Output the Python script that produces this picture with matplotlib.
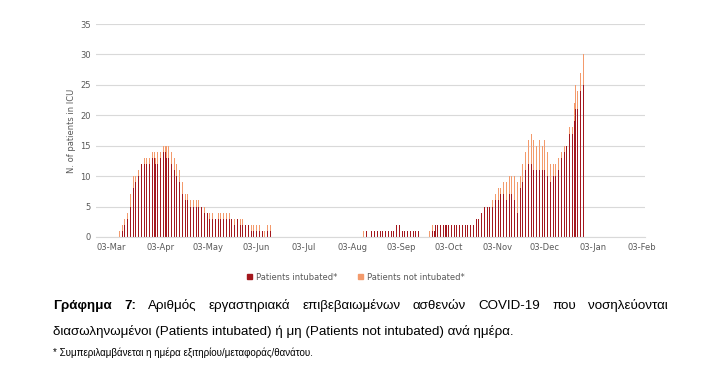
import numpy as np
import pandas as pd
import matplotlib
matplotlib.use("Agg")
import matplotlib.pyplot as plt
import matplotlib.dates as mdates
from matplotlib.patches import Patch

# daily values, first wave starting 07-Mar-2020
wave1_start = "2020-03-07"
wave1_intubated = [0, 0, 1, 1, 2, 2, 3, 4, 5, 7, 8, 9, 10, 10, 11, 12, 12, 12, 12, 12,
                   12, 13, 13, 13, 12, 12, 13, 13, 13, 14, 14, 13, 13, 13, 12, 12, 11, 10, 9, 9,
                   8, 7, 6, 6, 6, 5, 5, 5, 5, 5, 5, 5, 5, 5, 4, 4, 4, 4, 3, 3,
                   3, 3, 3, 3, 3, 3, 3, 3, 3, 3, 3, 3, 3, 2, 2, 2, 3, 3, 2, 2,
                   2, 2, 2, 2, 2, 1, 1, 1, 1, 1, 1, 1, 1, 0, 1, 1, 1, 1]
wave1_not_intubated = [1, 1, 1, 1, 1, 1, 1, 2, 2, 2, 2, 1, 1, 1, 1, 0, 1, 1, 1, 1,
                       1, 0, 1, 1, 1, 2, 1, 1, 2, 1, 1, 2, 2, 1, 2, 1, 2, 2, 2, 2,
                       2, 2, 2, 1, 1, 1, 1, 1, 1, 0, 1, 1, 0, 0, 1, 1, 0, 0, 1, 1,
                       1, 0, 0, 1, 1, 1, 1, 1, 1, 1, 1, 1, 0, 1, 1, 1, 0, 0, 1, 1,
                       1, 0, 0, 0, 0, 1, 1, 1, 1, 1, 1, 1, 0, 1, 1, 1, 1, 1]

# second wave starting 10-Aug-2020
wave2_start = "2020-08-10"
wave2_intubated = [0, 0, 1, 1, 0, 1, 1, 1, 1, 1, 0, 1, 1, 1, 1, 1, 1, 1, 1, 1,
                   1, 2, 2, 2, 1, 1, 1, 1, 1, 1, 1, 1, 1, 1, 0, 1, 0, 0, 0, 0,
                   0, 0, 0, 0, 1, 1, 2, 2, 2, 2, 2, 2, 2, 2, 2, 2, 2, 2, 2, 2,
                   2, 2, 2, 2, 2, 2, 2, 2, 2, 2, 2, 2, 3, 3, 4, 4, 5, 5, 5, 5,
                   5, 5, 5, 5, 6, 6, 6, 7, 7, 7, 6, 6, 6, 7, 7, 7, 6, 4, 4, 7,
                   8, 9, 10, 11, 12, 12, 12, 12, 11, 11, 11, 11, 11, 11, 11, 11, 11, 10, 9, 9,
                   9, 10, 10, 10, 11, 12, 13, 14, 14, 15, 15, 17, 16, 17, 19, 21, 21, 22, 24, 24,
                   25]
wave2_not_intubated = [1, 0, 0, 0, 0, 0, 0, 0, 0, 0, 0, 0, 0, 0, 0, 0, 0, 0, 0, 0,
                       0, 0, 0, 0, 0, 0, 0, 0, 0, 0, 0, 0, 0, 0, 1, 0, 0, 0, 0, 0,
                       0, 1, 1, 1, 1, 0, 0, 0, 0, 0, 0, 0, 0, 0, 0, 0, 0, 0, 0, 0,
                       0, 0, 0, 0, 0, 0, 0, 0, 0, 0, 0, 0, 0, 0, 0, 0, 0, 0, 0, 0,
                       0, 1, 1, 1, 1, 1, 2, 1, 2, 2, 3, 3, 3, 3, 3, 3, 4, 5, 5, 3,
                       2, 3, 3, 3, 3, 4, 4, 5, 5, 4, 4, 5, 5, 5, 4, 5, 5, 4, 4, 3,
                       3, 2, 2, 2, 2, 2, 1, 1, 1, 0, 1, 1, 1, 1, 3, 4, 3, 3, 3, 4,
                       5]

tick_dates = pd.date_range("2020-03-03", periods=12, freq=pd.DateOffset(months=1))

c_int = "#a3171d"
c_not = "#f39a6c"
grey = "#595959"

fig = plt.figure(figsize=(7.26, 3.86), dpi=100)
ax = fig.add_axes([96 / 726, 1 - 237 / 386, (645 - 96) / 726, (237 - 24) / 386])

for start, intub, notint in [(wave1_start, wave1_intubated, wave1_not_intubated),
                             (wave2_start, wave2_intubated, wave2_not_intubated)]:
    d = pd.date_range(start, periods=len(intub), freq="D")
    ax.bar(d, intub, width=0.38, color=c_int, linewidth=0)
    ax.bar(d, notint, width=0.38, bottom=intub, color=c_not, linewidth=0)

ax.set_ylim(0, 35)
ax.set_yticks(range(0, 36, 5))
ax.set_xlim(pd.Timestamp("2020-02-22"), pd.Timestamp("2021-02-05"))
ax.set_xticks(tick_dates)
ax.xaxis.set_major_formatter(mdates.DateFormatter("%d-%b"))
ax.grid(axis="y", color="#d9d9d9", linewidth=0.8)
ax.set_axisbelow(True)
for s in ["top", "right", "left"]:
    ax.spines[s].set_visible(False)
ax.spines["bottom"].set_color("#d9d9d9")
ax.tick_params(length=0, labelsize=6, colors=grey, pad=4)
ax.set_ylabel("N. of patients in ICU", fontsize=6, color=grey, labelpad=3)

handles = [Patch(color=c_int, label="Patients intubated*"),
           Patch(color=c_not, label="Patients not intubated*")]
fig.legend(handles=handles, loc="center", bbox_to_anchor=(356 / 726, 1 - 277 / 386),
           ncol=2, frameon=False, fontsize=6, handlelength=0.6, handleheight=0.6,
           columnspacing=2.5, handletextpad=0.5, labelcolor=grey)

# caption, first line justified
fig.canvas.draw()
rend = fig.canvas.get_renderer()
fam = "Liberation Sans"
fs = 9.6
words = [("Γράφημα", "bold"), ("7:", "bold"), ("Αριθμός", "normal"), ("εργαστηριακά", "normal"),
         ("επιβεβαιωμένων", "normal"), ("ασθενών", "normal"), ("COVID-19", "normal"),
         ("που", "normal"), ("νοσηλεύονται", "normal")]
x0, x1 = 53, 668
y1 = 1 - 309 / 386
texts = []
for w, wt in words:
    t = fig.text(0, y1, w, fontsize=fs, family=fam, fontweight=wt, va="baseline")
    texts.append(t)
widths = [t.get_window_extent(rend).width for t in texts]
gap = (x1 - x0 - sum(widths)) / (len(words) - 1)
x = x0
for t, wd in zip(texts, widths):
    t.set_x(x / 726)
    x += wd + gap

fig.text(x0 / 726, 1 - 335 / 386,
         "διασωληνωμένοι (Patients intubated) ή μη (Patients not intubated) ανά ημέρα.",
         fontsize=fs, family=fam, va="baseline")
fig.text(x0 / 726, 1 - 356 / 386,
         "* Συμπεριλαμβάνεται η ημέρα εξιτηρίου/μεταφοράς/θανάτου.",
         fontsize=7, family=fam, va="baseline")

fig.savefig("out.png", dpi=100)
